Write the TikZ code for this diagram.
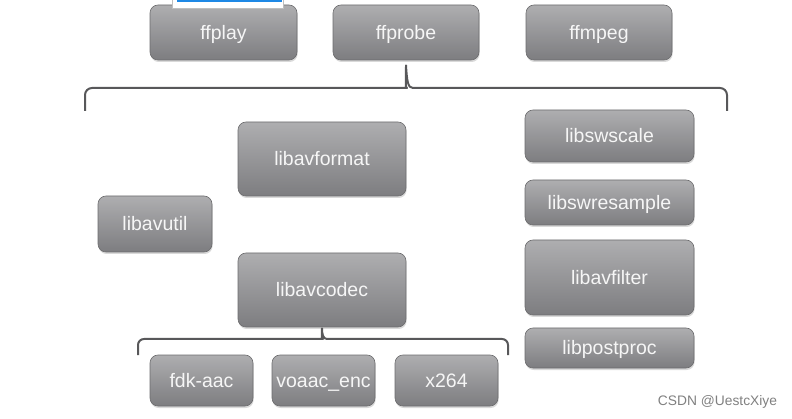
\documentclass[tikz,border=0pt]{standalone}
\usepackage{fontspec}
\setmainfont{Liberation Sans}
\usetikzlibrary{shadows}
\definecolor{boxtop}{HTML}{AEAEB0}
\definecolor{boxbot}{HTML}{7D7D80}
\definecolor{boxline}{HTML}{6C6C6E}
\definecolor{boxtext}{HTML}{F6F6F6}
\definecolor{braceline}{HTML}{58585A}
\definecolor{selblue}{HTML}{1E88E5}
\tikzset{
  lib/.style={draw=boxline, line width=0.6pt, rounded corners=8pt,
    top color=boxtop, bottom color=boxbot, text=boxtext, inner sep=0pt,
    font=\fontsize{19.5}{22}\selectfont, text height=16pt, text depth=2pt,
    drop shadow={shadow xshift=0.6pt, shadow yshift=-2pt, opacity=0.3}},
  brace/.style={draw=braceline, line width=2pt, line join=round},
}

\begin{document}
\begin{tikzpicture}[x=1pt,y=1pt]
     \useasboundingbox (0,0) rectangle (792,-419);
     % tools
     \node[lib, minimum width=147, minimum height=55] (ffplay)  at (223.5,-32.5) {ffplay};
     \node[lib, minimum width=146, minimum height=55] (ffprobe) at (406.0,-32.5) {ffprobe};
     \node[lib, minimum width=146, minimum height=55] (ffmpeg)  at (599.0,-32.5) {ffmpeg};
     % selection box on top
     \filldraw[draw=black!25, fill=white] (172,2) rectangle (283,-8.5);
     \fill[selblue] (177,2) rectangle (282,-2.5);
     % libraries
     \node[lib, minimum width=168, minimum height=74] (avformat) at (322.0,-159.0) {libavformat};
     \node[lib, minimum width=114, minimum height=56] (avutil)   at (155.0,-224.0) {libavutil};
     \node[lib, minimum width=168, minimum height=74] (avcodec)  at (322.0,-290.0) {libavcodec};
     \node[lib, minimum width=103, minimum height=51] (fdkaac)   at (201.5,-380.5) {fdk-aac};
     \node[lib, minimum width=103, minimum height=51] (voaac)    at (323.5,-380.5) {voaac\_enc};
     \node[lib, minimum width=103, minimum height=51] (xcodec)   at (446.5,-380.5) {x264};
     \node[lib, minimum width=169, minimum height=52] (swscale)  at (609.5,-136.0) {libswscale};
     \node[lib, minimum width=169, minimum height=45] (swresample) at (609.5,-202.5) {libswresample};
     \node[lib, minimum width=169, minimum height=75] (avfilter) at (609.5,-277.5) {libavfilter};
     \node[lib, minimum width=169, minimum height=40] (postproc) at (609.5,-348.0) {libpostproc};
     % braces
     \coordinate (bigL) at (85,-111);
     \coordinate (bigR) at (727,-111);
     \coordinate (bigT) at ([yshift=-5]ffprobe.south);
     \draw[brace] (bigL) [rounded corners=7pt] |- (400,-88) [sharp corners]
        .. controls (405,-88) and (406,-82) .. (bigT)
        .. controls (407,-82) and (408,-88) .. (413,-88)
        [rounded corners=7pt] -| (bigR);
     \coordinate (smallL) at (138,-355);
     \coordinate (smallR) at (508,-355);
     \coordinate (smallT) at ([yshift=-1]avcodec.south);
     \draw[brace] (smallL) [rounded corners=6pt] |- (317,-339) [sharp corners]
        .. controls (321,-339) and (322,-334) .. (smallT)
        .. controls (322,-334) and (323,-339) .. (327,-339)
        [rounded corners=6pt] -| (smallR);
     % watermark
     \node[text=black!50, font=\fontsize{13.8}{16}\selectfont, inner sep=0pt] (mark) at (717.5,-402) {CSDN @UestcXiye};
\end{tikzpicture}
\end{document}
